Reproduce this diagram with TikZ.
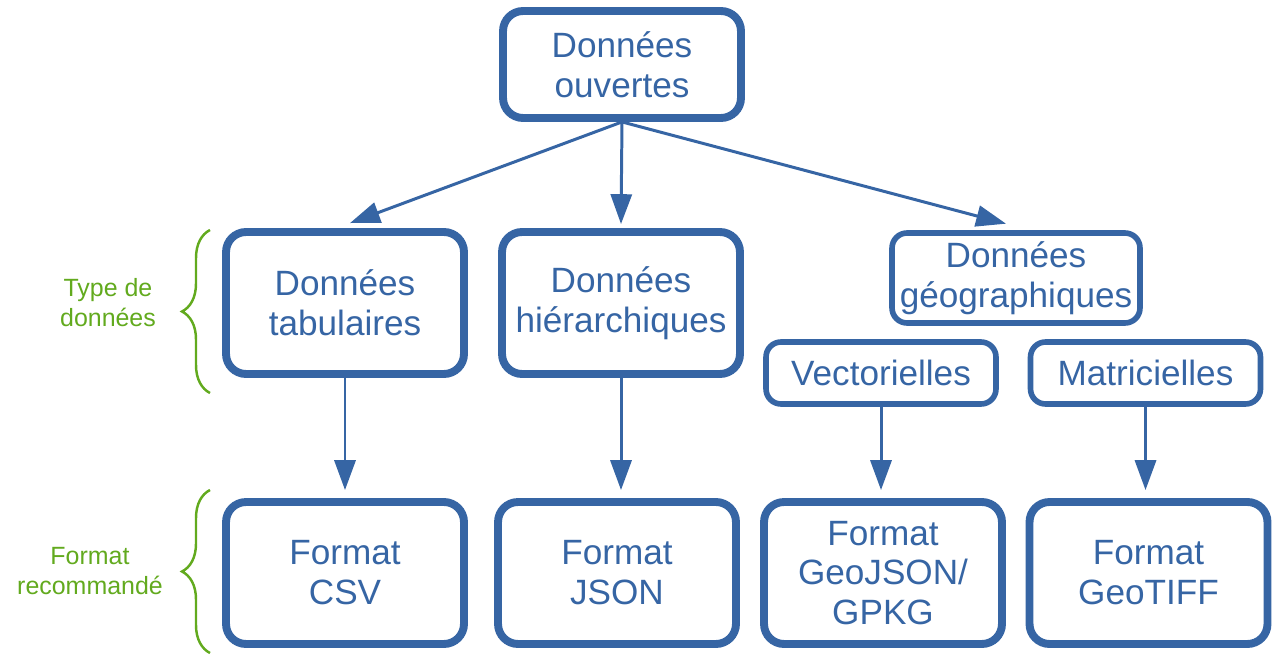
\documentclass[tikz,border=0pt]{standalone}
\usepackage{fontspec}
\setmainfont{Liberation Sans}
\usetikzlibrary{arrows.meta,decorations.pathreplacing}
\definecolor{boxblue}{RGB}{54,101,164}
\definecolor{labelgreen}{RGB}{98,170,30}

\begin{document}
\begin{tikzpicture}[x=0.02cm,y=-0.02cm]
      \useasboundingbox (0,0) rectangle (1273,655);

      \begin{scope}[every node/.style={draw=boxblue, text=boxblue, line width=4.5pt, rounded corners=0.4cm,
          align=center, inner sep=0pt, minimum width=4.76cm, minimum height=2.84cm,
          font=\fontsize{20}{22.7}\selectfont}]
        \node (ouvertes) at (622,64.5) [minimum height=2.14cm] {Données\\ouvertes};
        \node (tabul)    at (345,303)   {Données\\tabulaires};
        \node (hier)     at (621,303)   {Données\\hiérarchiques};
        \node (csv)      at (345,573)   {Format\\CSV};
        \node (json)     at (617,573)   {Format\\JSON};
        \node (geojson)  at (883,573)   {Format\\GeoJSON/\\GPKG};
        \node (geotiff)  at (1148.5,573) {Format\\GeoTIFF};
      \end{scope}

      \begin{scope}[every node/.style={draw=boxblue, text=boxblue, line width=3.2pt, rounded corners=0.3cm,
          align=center, inner sep=0pt, minimum width=4.6cm, minimum height=1.24cm,
          font=\fontsize{20}{22.7}\selectfont}]
        \node (geo)  at (1016,278) [minimum width=4.96cm, minimum height=1.8cm] {Données\\géographiques};
        \node (vect) at (881,373)    {Vectorielles};
        \node (matr) at (1145.5,373) {Matricielles};
      \end{scope}

      \begin{scope}[every edge/.style={draw=boxblue, line width=1.7pt, -{Triangle[length=17pt,width=12pt]}}]
        \path (ouvertes.south) edge ([xshift=0.1cm,yshift=0.1cm]tabul.north);
        \path (ouvertes.south) edge ([yshift=0.08cm]hier.north);
        \path (ouvertes.south) edge ([xshift=-0.2cm,yshift=0.13cm]geo.north);
        \path (tabul.south)    edge ([yshift=0.16cm]csv.north);
        \path (hier.south)     edge ([yshift=0.16cm]hier.south |- json.north);
        \path (vect.south)     edge ([yshift=0.16cm]vect.south |- geojson.north);
        \path (matr.south)     edge ([yshift=0.16cm]matr.south |- geotiff.north);
      \end{scope}

      \begin{scope}[every path/.style={draw=labelgreen, line width=1.4pt, decorate, decoration={brace, amplitude=0.56cm}}]
        \path (210,393) -- (210,230);
        \path (210,653) -- (210,490);
      \end{scope}

      \begin{scope}[every node/.style={text=labelgreen, align=center, font=\fontsize{14.2}{17}\selectfont}]
        \node (typelbl) at (108,303) {Type de\\données};
        \node (fmtlbl)  at (90,571)  {Format\\recommandé};
      \end{scope}

    \end{tikzpicture}
\end{document}
